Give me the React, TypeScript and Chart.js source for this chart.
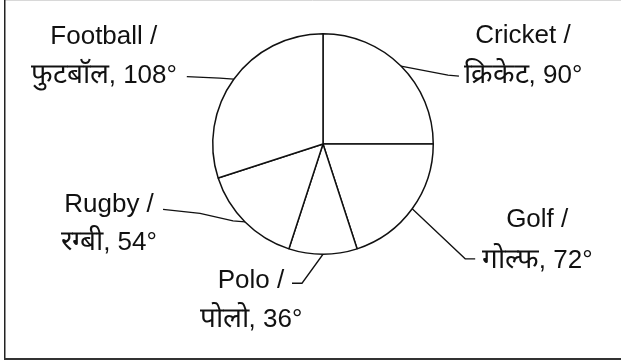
import React, { useEffect, useRef } from "react";
import { Chart, registerables } from "chart.js";

Chart.register(...registerables);

const categories = ["Cricket", "Golf", "Polo", "Rugby", "Football"];
const hindiNames = ["क्रिकेट", "गोल्फ", "पोलो", "रग्बी", "फुटबॉल"];
const degrees = [90, 72, 36, 54, 108];

// Label layout relative to the point where each slice's mid-angle meets the rim
const labelLayout = [
  { leader: [[47, 9], [58, 10]], dx: 122, line1: -23, line2: 17 },
  { leader: [[53, 50], [63, 50]], dx: 125, line1: 18, line2: 59 },
  { leader: [[-21, 29], [-31, 29]], dx: -72, line1: 34, line2: 73 },
  { leader: [[-12, -1], [-45, -8.5], [-82, -12.5]], dx: -136, line1: -10, line2: 28 },
  { leader: [[-14, -1], [-47, -2.6]], dx: -130, line1: -35, line2: 4 },
];

const LATIN_FONT = '26px "Liberation Sans", Arial, sans-serif';
const HINDI_FONT = '28px "Liberation Sans", Arial, sans-serif';

const framePlugin = {
  id: "frame",
  beforeDraw(chart: any) {
    const { ctx, width } = chart;
    ctx.save();
    ctx.fillStyle = "#ffffff";
    ctx.fillRect(0, 0, width, chart.height);
    ctx.strokeStyle = "#d8d8d8";
    ctx.lineWidth = 1;
    ctx.beginPath();
    ctx.moveTo(4, 0.5);
    ctx.lineTo(width, 0.5);
    ctx.stroke();
    ctx.strokeStyle = "#222222";
    ctx.lineWidth = 1.5;
    ctx.beginPath();
    ctx.moveTo(4.75, 0);
    ctx.lineTo(4.75, 360);
    ctx.stroke();
    ctx.strokeStyle = "#333333";
    ctx.lineWidth = 2;
    ctx.beginPath();
    ctx.moveTo(4, 359);
    ctx.lineTo(width, 359);
    ctx.stroke();
    ctx.restore();
  },
};

const labelPlugin = {
  id: "sportLabels",
  afterDraw(chart: any) {
    const ctx = chart.ctx;
    const meta = chart.getDatasetMeta(0);
    ctx.save();
    meta.data.forEach((arc: any, i: number) => {
      const p = arc.getProps(["x", "y", "startAngle", "endAngle", "outerRadius"], true);
      const mid = (p.startAngle + p.endAngle) / 2;
      const ex = p.x + Math.cos(mid) * p.outerRadius;
      const ey = p.y + Math.sin(mid) * p.outerRadius;
      const cfg = labelLayout[i];
      ctx.strokeStyle = "#111111";
      ctx.lineWidth = 1.3;
      ctx.beginPath();
      ctx.moveTo(ex, ey);
      cfg.leader.forEach(([lx, ly]) => ctx.lineTo(ex + lx, ey + ly));
      ctx.stroke();

      ctx.fillStyle = "#111111";
      ctx.textBaseline = "alphabetic";
      const tx = ex + cfg.dx;
      ctx.font = LATIN_FONT;
      ctx.textAlign = "center";
      ctx.fillText(`${categories[i]} /`, tx, ey + cfg.line1);

      const hindi = hindiNames[i];
      const rest = `, ${degrees[i]}°`;
      ctx.font = HINDI_FONT;
      const wH = ctx.measureText(hindi).width;
      ctx.font = LATIN_FONT;
      const wR = ctx.measureText(rest).width;
      const x0 = tx - (wH + wR) / 2;
      ctx.textAlign = "left";
      ctx.font = HINDI_FONT;
      ctx.fillText(hindi, x0, ey + cfg.line2);
      ctx.font = LATIN_FONT;
      ctx.fillText(rest, x0 + wH, ey + cfg.line2);
    });
    ctx.restore();
  },
};

export default function App() {
  const ref = useRef<HTMLCanvasElement>(null);
  useEffect(() => {
    if (!ref.current) return;
    const chart = new Chart(ref.current, {
      type: "pie",
      data: {
        labels: categories,
        datasets: [
          {
            data: degrees,
            backgroundColor: "#ffffff",
            borderColor: "#111111",
            borderWidth: 1.5,
            hoverOffset: 0,
          },
        ],
      },
      options: {
        responsive: false,
        devicePixelRatio: 1,
        animation: false,
        layout: { padding: { left: 212, right: 187, top: 33, bottom: 109 } },
        plugins: { legend: { display: false }, tooltip: { enabled: false } },
        events: [],
      },
      plugins: [framePlugin, labelPlugin],
    });
    return () => chart.destroy();
  }, []);
  return (
    <div style={{ position: "fixed", left: 0, top: 0, width: 621, height: 364 }}>
      <canvas ref={ref} width={621} height={364} style={{ display: "block" }} />
    </div>
  );
}
